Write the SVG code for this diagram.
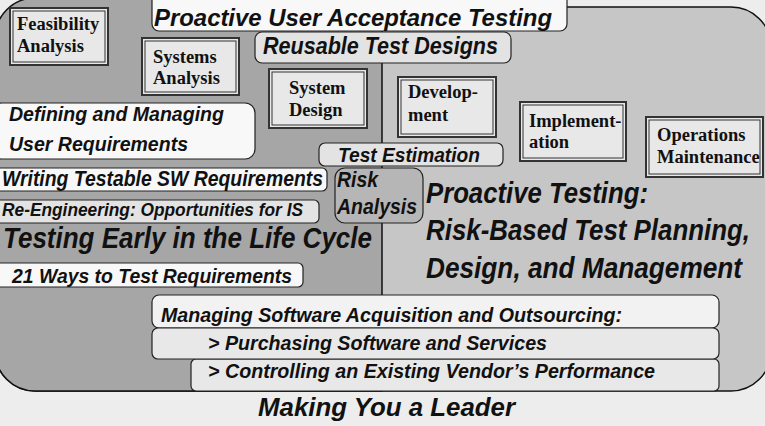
<svg xmlns="http://www.w3.org/2000/svg" width="765" height="426" viewBox="0 0 765 426">
<style>
.bg{fill:#ededed}
.region{stroke:#111;stroke-width:1.5}
.dbl-o{fill:#e8e8e8;stroke:#333;stroke-width:2}
.dbl-i{fill:none;stroke:#333;stroke-width:1}
.ser{font-family:"Liberation Serif","Times New Roman",serif;font-weight:bold;font-size:18.5px;fill:#111}
.box{stroke:#222;stroke-width:1.2}
.w{fill:#f8f8f8}
.g{fill:#e3e3e3}
.it{font-family:"Liberation Sans",Arial,sans-serif;font-weight:bold;font-style:italic;fill:#111}
</style>
<rect class="bg" x="0" y="0" width="765" height="426"/>
<g id="regions">
<rect class="region" x="-5" y="7" width="776" height="384" rx="40" ry="40" fill="#c6c6c6"/>
<path class="region" d="M -5,38 A 40 40 0 0 1 35,-2 H 382 V 391 H 35 A 40 40 0 0 1 -5,351 Z" fill="#a6a6a6"/>
</g>
<g id="feasibility">
<rect class="dbl-o" x="10" y="8" width="98" height="57"/>
<rect class="dbl-i" x="13" y="11" width="92" height="51"/>
<text class="ser" x="17" y="30">Feasibility</text>
<text class="ser" x="17" y="52">Analysis</text>
</g>
<g id="systems-analysis">
<rect class="dbl-o" x="142" y="38" width="97" height="57"/>
<rect class="dbl-i" x="145" y="41" width="91" height="51"/>
<text class="ser" x="153" y="63">Systems</text>
<text class="ser" x="153" y="84">Analysis</text>
</g>
<g id="system-design">
<rect class="dbl-o" x="269" y="69" width="98" height="59"/>
<rect class="dbl-i" x="272" y="72" width="92" height="53"/>
<text class="ser" x="289" y="94">System</text>
<text class="ser" x="289" y="116">Design</text>
</g>
<g id="development">
<rect class="dbl-o" x="398" y="77" width="98" height="60"/>
<rect class="dbl-i" x="401" y="80" width="92" height="54"/>
<text class="ser" x="408" y="98">Develop-</text>
<text class="ser" x="408" y="121">ment</text>
</g>
<g id="implementation">
<rect class="dbl-o" x="520" y="102" width="106" height="59"/>
<rect class="dbl-i" x="523" y="105" width="100" height="53"/>
<text class="ser" x="529" y="127">Implement-</text>
<text class="ser" x="529" y="148">ation</text>
</g>
<g id="operations">
<rect class="dbl-o" x="646" y="117" width="117" height="60"/>
<rect class="dbl-i" x="649" y="120" width="111" height="54"/>
<text class="ser" x="657" y="141">Operations</text>
<text class="ser" x="657" y="163">Maintenance</text>
</g>
<g id="puat">
<rect class="box w" x="152" y="-8" width="415" height="39" rx="7"/>
<text class="it" x="154" y="26" font-size="24" textLength="398" lengthAdjust="spacingAndGlyphs">Proactive User Acceptance Testing</text>
</g>
<g id="reusable">
<rect class="box g" x="255" y="32" width="256" height="31" rx="7"/>
<text class="it" x="263" y="54" font-size="24" textLength="235" lengthAdjust="spacingAndGlyphs">Reusable Test Designs</text>
</g>
<g id="defining">
<rect class="box w" x="-8" y="103" width="263" height="56" rx="10"/>
<text class="it" x="9" y="121" font-size="21" textLength="215" lengthAdjust="spacingAndGlyphs">Defining and Managing</text>
<text class="it" x="9" y="151" font-size="21" textLength="179" lengthAdjust="spacingAndGlyphs">User Requirements</text>
</g>
<g id="test-estimation">
<rect class="box g" x="319" y="143" width="184" height="23" rx="6"/>
<text class="it" x="338" y="162" font-size="21" textLength="142" lengthAdjust="spacingAndGlyphs">Test Estimation</text>
</g>
<g id="writing">
<rect class="box w" x="-8" y="168" width="335" height="23" rx="5"/>
<text class="it" transform="translate(2,186) scale(0.878,1)" x="0" y="0" font-size="22" textLength="365.6" lengthAdjust="spacingAndGlyphs">Writing Testable SW Requirements</text>
</g>
<g id="risk">
<rect class="box" x="335" y="168" width="88" height="55" rx="10" fill="#b6b6b6"/>
<text class="it" x="337" y="187" font-size="22" textLength="41" lengthAdjust="spacingAndGlyphs">Risk</text>
<text class="it" x="337" y="214" font-size="22" textLength="80" lengthAdjust="spacingAndGlyphs">Analysis</text>
</g>
<g id="reengineering">
<rect class="box g" x="-8" y="200" width="327" height="23" rx="5"/>
<text class="it" x="2" y="216" font-size="18" textLength="301" lengthAdjust="spacingAndGlyphs">Re-Engineering: Opportunities for IS</text>
</g>
<g id="testing-early">
<text class="it" x="3" y="248" font-size="29" textLength="369" lengthAdjust="spacingAndGlyphs">Testing Early in the Life Cycle</text>
</g>
<g id="ways">
<rect class="box w" x="-8" y="263" width="311" height="24" rx="5"/>
<text class="it" x="12" y="283" font-size="21" textLength="280" lengthAdjust="spacingAndGlyphs">21 Ways to Test Requirements</text>
</g>
<g id="proactive-testing">
<text class="it" x="426" y="203" font-size="30" textLength="222" lengthAdjust="spacingAndGlyphs">Proactive Testing:</text>
<text class="it" transform="translate(426,240) scale(0.86,1)" x="0" y="0" font-size="30" textLength="376.8" lengthAdjust="spacingAndGlyphs">Risk-Based Test Planning,</text>
<text class="it" transform="translate(426,278) scale(0.874,1)" x="0" y="0" font-size="30" textLength="361.6" lengthAdjust="spacingAndGlyphs">Design, and Management</text>
</g>
<g id="controlling">
<rect class="box" x="191" y="359" width="528" height="32" rx="5" fill="#e8e8e8"/>
<text class="it" x="208" y="378" font-size="21" textLength="447" lengthAdjust="spacingAndGlyphs">&gt; Controlling an Existing Vendor’s Performance</text>
</g>
<g id="managing">
<rect class="box" x="152" y="295" width="567" height="33" rx="7" fill="#f2f2f2"/>
<text class="it" x="161" y="322" font-size="21" textLength="461" lengthAdjust="spacingAndGlyphs">Managing Software Acquisition and Outsourcing:</text>
</g>
<g id="purchasing">
<rect class="box" x="152" y="328" width="567" height="31" rx="6" fill="#e8e8e8"/>
<text class="it" x="208" y="350" font-size="21" textLength="339" lengthAdjust="spacingAndGlyphs">&gt; Purchasing Software and Services</text>
</g>
<g id="leader">
<text class="it" x="258" y="416" font-size="26" textLength="257" lengthAdjust="spacingAndGlyphs">Making You a Leader</text>
</g>
</svg>
